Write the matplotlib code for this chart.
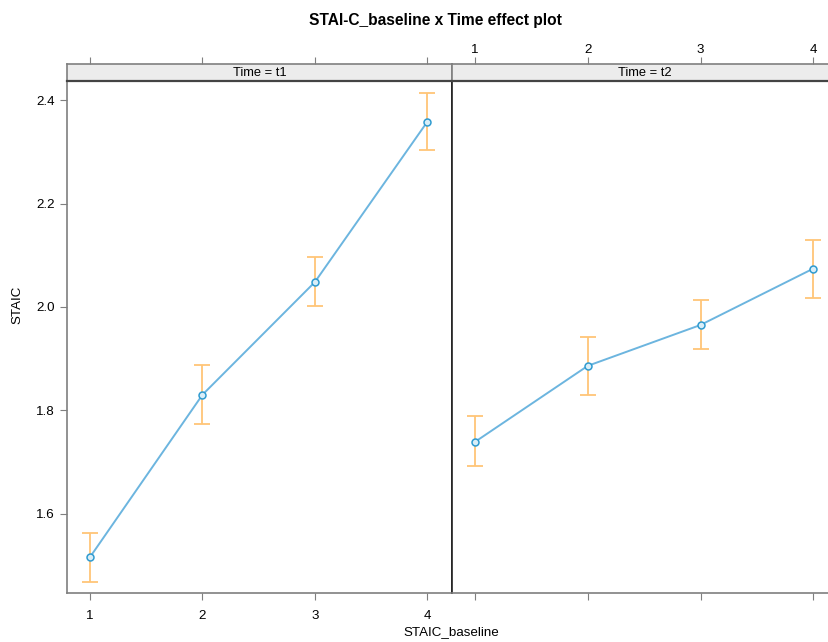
import matplotlib.pyplot as plt
import numpy as np

plt.rcParams['font.family'] = ['Liberation Sans', 'DejaVu Sans']

# values
baseline = [1, 2, 3, 4]
t1_fit = [1.516, 1.830, 2.048, 2.358]
t1_lower = [1.468, 1.773, 2.002, 2.304]
t1_upper = [1.563, 1.887, 2.097, 2.414]
t2_fit = [1.739, 1.886, 1.965, 2.074]
t2_lower = [1.692, 1.829, 1.918, 2.018]
t2_upper = [1.788, 1.942, 2.014, 2.129]
panels = ["Time = t1", "Time = t2"]

line_col = "#6cb5df"
err_col = "#ffc577"
frame_col = "#7f7f7f"

fig = plt.figure(figsize=(8.29, 6.42), dpi=100)
W, H = 829, 642

def px_axes(x0, y0, x1, y1):
    return fig.add_axes([x0 / W, 1 - y1 / H, (x1 - x0) / W, (y1 - y0) / H])

xlim = (0.795, 4.22)
ylim = (1.4465, 2.437)

series = [(t1_fit, t1_lower, t1_upper), (t2_fit, t2_lower, t2_upper)]
edges = [(67, 452), (452, 838)]

for i, ((fit, lo, hi), (x0, x1)) in enumerate(zip(series, edges)):
    ax = px_axes(x0, 81, x1, 593)
    ax.set_xlim(*xlim)
    ax.set_ylim(*ylim)
    fit = np.array(fit)
    ax.errorbar(baseline, fit, yerr=[fit - np.array(lo), np.array(hi) - fit],
                fmt='none', ecolor=err_col, elinewidth=1.3, capsize=6, capthick=1.3, zorder=2)
    ax.plot(baseline, fit, color=line_col, lw=1.4, zorder=3)
    ax.plot(baseline, fit, 'o', ms=5, mfc="#d9eef8", mec="#2f9bd0", mew=1.1, zorder=4)

    for s in ax.spines.values():
        s.set_color(frame_col)
        s.set_linewidth(1.2)
    if i == 0:
        ax.spines['right'].set_color('#222222')
    else:
        ax.spines['left'].set_color('#222222')

    ax.set_xticks(baseline)
    ax.tick_params(axis='x', direction='out', length=5, color=frame_col,
                   labelsize=9.6, top=False, bottom=True,
                   labelbottom=(i == 0), labeltop=False, pad=7)
    ax.set_yticks([1.6, 1.8, 2.0, 2.2, 2.4])
    ax.set_yticklabels(["1.6", "1.8", "2.0", "2.2", "2.4"])
    ax.tick_params(axis='y', direction='out', length=5, color=frame_col, labelsize=9.6,
                   left=(i == 0), labelleft=(i == 0), right=(i == 1), pad=4)

    # strip with the top axis ticks
    sx = px_axes(x0, 64, x1, 81)
    sx.set_xlim(*xlim)
    sx.set_yticks([])
    sx.set_xticks(baseline)
    sx.tick_params(axis='x', direction='out', length=5, color=frame_col, labelsize=9.6,
                   top=True, bottom=False, labeltop=(i == 1), labelbottom=False, pad=1)
    sx.set_facecolor("#ececec")
    for s in sx.spines.values():
        s.set_color(frame_col)
        s.set_linewidth(1.2)
    sx.spines['bottom'].set_color('#444444')
    sx.spines['bottom'].set_linewidth(1.6)
    sx.text(0.5, 0.45, panels[i], ha='center', va='center', fontsize=9.3,
            transform=sx.transAxes)

fig.text(435 / W, 1 - 20 / H, "STAI-C_baseline x Time effect plot", ha='center', va='center',
         fontsize=11.2, fontweight='bold')
fig.text(451 / W, 1 - 632 / H, "STAIC_baseline", ha='center', va='center', fontsize=9.6)
fig.text(17 / W, 1 - 305 / H, "STAIC", ha='center', va='center', fontsize=9.6, rotation=90)

fig.savefig("out.png", dpi=100)
